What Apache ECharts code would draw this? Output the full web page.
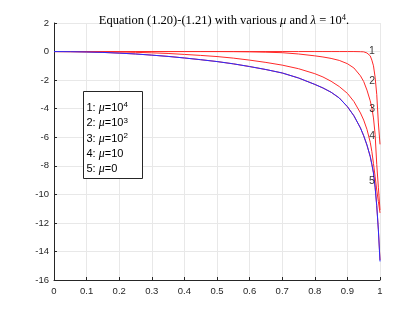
<!DOCTYPE html>
<html>
<head>
<meta charset="utf-8">
<script src="https://cdn.jsdelivr.net/npm/echarts@6/dist/echarts.min.js"></script>
<style>html,body{margin:0;padding:0;background:#fff;}#c{width:420px;height:315px;}</style>
</head>
<body>
<div id="c"></div>
<script>
// x sample positions (shared by all curves)
var xs = [0, 0.05, 0.1, 0.15, 0.2, 0.25, 0.3, 0.35, 0.4, 0.45, 0.5, 0.55, 0.6, 0.65, 0.7, 0.75, 0.8, 0.825, 0.85, 0.875, 0.9, 0.92, 0.94, 0.95, 0.96, 0.97, 0.975, 0.98, 0.985, 0.99, 0.995, 1.0];
// curve 1: mu = 1e4
var mu1e4 = [0, 0, 0, 0, 0, 0, 0, 0, 0, 0, 0, 0, 0, 0, 0, 0, 0, 0, 0, 0, 0, 0, -0.01, -0.02, -0.1, -0.3, -0.6, -1.0, -1.8, -3.0, -5.0, -6.5];
// curve 2: mu = 1e3
var mu1e3 = [0, 0, 0, 0, 0, 0, 0, 0, 0, 0, 0, -0.005, -0.02, -0.045, -0.08, -0.17, -0.3, -0.38, -0.48, -0.62, -0.85, -1.15, -1.7, -2.1, -2.7, -3.45, -3.95, -4.65, -5.8, -7.9, -9.5, -11.1];
// curve 3: mu = 1e2
var mu1e2 = [0, 0, -0.005, -0.015, -0.03, -0.055, -0.09, -0.135, -0.2, -0.27, -0.35, -0.46, -0.6, -0.76, -0.95, -1.2, -1.55, -1.78, -2.08, -2.45, -2.93, -3.5, -4.3, -4.8, -5.45, -6.35, -7.0, -7.85, -8.75, -9.7, -10.5, -11.3];
// curve 4: mu = 10
var mu10 = [0, -0.01, -0.03, -0.06, -0.11, -0.17, -0.25, -0.34, -0.45, -0.57, -0.7, -0.86, -1.05, -1.26, -1.5, -1.85, -2.3, -2.55, -2.85, -3.25, -3.86, -4.5, -5.35, -5.9, -6.55, -7.35, -7.9, -8.5, -9.5, -10.8, -12.45, -14.6];
// curve 5: mu = 0
var mu0 = [0, -0.01, -0.03, -0.06, -0.11, -0.17, -0.25, -0.34, -0.45, -0.57, -0.7, -0.86, -1.05, -1.26, -1.5, -1.85, -2.3, -2.55, -2.85, -3.25, -3.86, -4.5, -5.35, -5.9, -6.55, -7.35, -7.9, -8.5, -9.5, -10.8, -12.5, -14.7];

// curve number labels
var labelX = [0.975, 0.976, 0.976, 0.976, 0.975];
var labelY = [0.0, -2.07, -4.0, -5.95, -9.07];
var labelText = ['1', '2', '3', '4', '5'];

// legend entries
var legendNum = ['1', '2', '3', '4', '5'];
var legendExp = ['4', '3', '2', '', ''];
var legendBase = ['10', '10', '10', '10', '0'];

// axis ticks
var yMin = -16, yMax = 2, yStep = 2;
var xMin = 0, xMax = 1, xStep = 0.1;

function pairs(x, y) { return x.map(function (v, i) { return [v, y[i]]; }); }

var axisColor = '#262626';
var chart = echarts.init(document.getElementById('c'), null, { renderer: 'canvas' });

var redStyle = { color: '#ff2a2a', width: 1 };
var blueStyle = { color: '#2a2aff', width: 1 };

function lineSeries(data, style) {
  return { type: 'line', data: pairs(xs, data), showSymbol: false, symbol: 'none', smooth: false,
           lineStyle: style, itemStyle: { color: style.color }, animation: false, silent: true, z: 3 };
}

var legendChildren = [{
  type: 'rect', z: 100, shape: { x: 83.5, y: 91.5, width: 59, height: 87 },
  style: { fill: '#fff', stroke: '#262626', lineWidth: 1 }
}];
legendNum.forEach(function (n, i) {
  var txt = '{n|' + n + ': }{m|μ}{n|=' + legendBase[i] + '}' + (legendExp[i] ? '{s|' + legendExp[i] + '}' : '');
  legendChildren.push({
    type: 'text', z: 101, x: 86.5, y: 108 + i * 15.3,
    style: {
      text: txt, fill: '#000', font: '11px "Liberation Sans", Arial, sans-serif',
      verticalAlign: 'middle', align: 'left',
      rich: {
        n: { fontSize: 11, lineHeight: 14, fontFamily: '"Liberation Sans", Arial, sans-serif' },
        m: { fontStyle: 'italic', fontFamily: '"Liberation Serif", serif', fontSize: 12, lineHeight: 14 },
        s: { fontSize: 8, lineHeight: 8, verticalAlign: 'top', fontFamily: '"Liberation Sans", Arial, sans-serif' }
      }
    }
  });
});

chart.setOption({
  animation: false,
  backgroundColor: '#fff',
  title: {
    text: '{n|Equation (1.20)-(1.21) with various }{i|μ}{n| and }{i|λ}{n| = 10}{s|4}{n|.}',
    left: 219, top: 8, textAlign: 'center',
    textStyle: {
      fontFamily: '"Liberation Serif", "DejaVu Serif", serif', fontSize: 12, fontWeight: 'normal', color: '#000',
      rich: {
        n: { fontFamily: '"Liberation Serif", serif', fontSize: 12.5, lineHeight: 15 },
        i: { fontFamily: '"Liberation Serif", serif', fontStyle: 'italic', fontSize: 12.5, lineHeight: 15 },
        s: { fontFamily: '"Liberation Serif", serif', fontSize: 8.5, lineHeight: 9, verticalAlign: 'top' }
      }
    }
  },
  grid: { left: 54, right: 40, top: 23, bottom: 35, containLabel: false },
  xAxis: {
    type: 'value', min: xMin, max: xMax, interval: xStep,
    axisLine: { show: true, lineStyle: { color: axisColor, width: 1 }, onZero: false },
    axisTick: { show: true, inside: true, length: 3, lineStyle: { color: axisColor } },
    axisLabel: { color: axisColor, fontSize: 9.5, fontFamily: '"Liberation Sans", Arial, sans-serif', margin: 6,
      formatter: function (v) { return String(Math.round(v * 10) / 10); },
      showMinLabel: true, showMaxLabel: true },
    splitLine: { show: true, lineStyle: { color: '#e8e8e8', width: 1 } }
  },
  yAxis: {
    type: 'value', min: yMin, max: yMax, interval: yStep,
    axisLine: { show: true, lineStyle: { color: axisColor, width: 1 }, onZero: false },
    axisTick: { show: true, inside: true, length: 3, lineStyle: { color: axisColor } },
    axisLabel: { color: axisColor, fontSize: 9.5, fontFamily: '"Liberation Sans", Arial, sans-serif', margin: 5 },
    splitLine: { show: true, lineStyle: { color: '#e8e8e8', width: 1 } }
  },
  series: [
    lineSeries(mu1e4, redStyle),
    lineSeries(mu1e3, redStyle),
    lineSeries(mu1e2, redStyle),
    lineSeries(mu10, redStyle),
    lineSeries(mu0, blueStyle),
    {
      type: 'scatter', symbolSize: 0, silent: true, z: 5,
      data: labelX.map(function (x, i) { return { value: [x, labelY[i]], name: labelText[i] }; }),
      label: { show: true, position: 'inside', formatter: function (p) { return p.name; },
        color: '#000', fontSize: 10.5, fontFamily: '"Liberation Sans", Arial, sans-serif' }
    }
  ],
  graphic: [{ type: 'group', z: 100, children: legendChildren }]
});
</script>
</body>
</html>
